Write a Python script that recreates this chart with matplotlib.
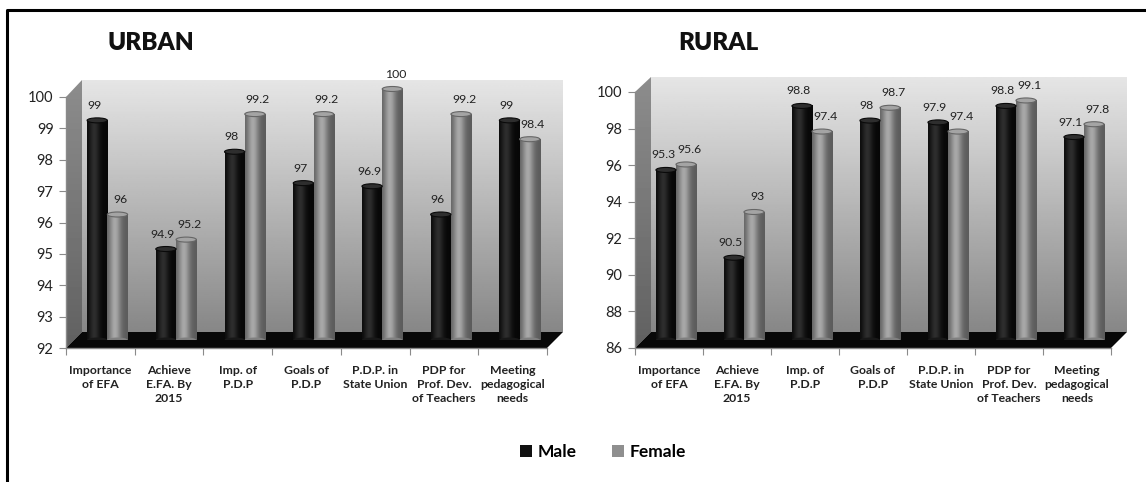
import numpy as np
import matplotlib.pyplot as plt
from matplotlib.patches import Polygon, Ellipse, Patch

plt.rcParams['font.family'] = ['Lato', 'DejaVu Sans']

# ---- data -------------------------------------------------------------
categories = ["Importance\nof EFA", "Achieve\nE.FA. By\n2015", "Imp. of\nP.D.P",
              "Goals of\nP.D.P", "P.D.P. in\nState Union",
              "PDP for\nProf. Dev.\nof Teachers", "Meeting\npedagogical\nneeds"]
urban_male = [99, 94.9, 98, 97, 96.9, 96, 99]
urban_female = [96, 95.2, 99.2, 99.2, 100, 99.2, 98.4]
rural_male = [95.3, 90.5, 98.8, 98, 97.9, 98.8, 97.1]
rural_female = [95.6, 93, 97.4, 98.7, 97.4, 99.1, 97.8]
urban_ticks = list(range(92, 101))
rural_ticks = list(range(86, 101, 2))
series_names = ["Male", "Female"]

# ---- figure -----------------------------------------------------------
W, H = 1146, 482
fig = plt.figure(figsize=(W / 100, H / 100), dpi=100)

# background layer in pixel coordinates (origin top-left)
bg = fig.add_axes([0, 0, 1, 1], zorder=0)
bg.set_xlim(0, W)
bg.set_ylim(H, 0)
bg.axis("off")

# outer frame
bg.plot([7, 7, W + 5], [H + 5, 10, 10], color="black", lw=2.2, solid_capstyle="butt")


def rect_px(x0, y_top, x1, y_bot):
    return [x0 / W, 1 - y_bot / H, (x1 - x0) / W, (y_bot - y_top) / H]


def cylinder(ax, bars, kind, ppu):
    for b in bars:
        x = b.get_x()
        w = b.get_width()
        y0 = b.get_y()
        y1 = y0 + b.get_height()
        t = np.linspace(0, 1, 64)
        if kind == "m":
            shade = 0.03 + 0.15 * np.exp(-((t - 0.35) / 0.25) ** 2)
            top_face, top_edge = "#2e2e2e", "#0a0a0a"
        else:
            shade = 0.36 + 0.30 * np.exp(-((t - 0.38) / 0.28) ** 2)
            top_face, top_edge = "#a4a4a4", "#666666"
        ax.imshow(shade[None, :], extent=(x, x + w, y0, y1), aspect="auto",
                  cmap="gray", vmin=0, vmax=1, zorder=3, interpolation="bilinear")
        eh = 5.0 / ppu
        ax.add_patch(Ellipse((x + w / 2, y0), w, eh, facecolor=plt.cm.gray(shade.mean()),
                             edgecolor="none", zorder=3))
        ax.add_patch(Ellipse((x + w / 2, y1), w, eh, facecolor=top_face,
                             edgecolor=top_edge, lw=0.8, zorder=4))


def panel(x0, x1, y_floor, y_hi, wall_top, ymin, yhi, ticks, male, female,
          title, title_x):
    n = len(categories)
    ppu = (y_floor - y_hi) / (yhi - ymin)
    ytop = ymin + (y_floor - wall_top) / ppu
    dx, dy = 16, 16          # depth of the box
    sx, sy = 7, 8            # bars sit half-way back

    # walls and floor
    grad = np.linspace(0.90, 0.53, 128)[:, None]
    bg.imshow(grad, extent=(x0 + dx, x1 + dx, y_floor - dy, wall_top), aspect="auto",
              cmap="gray", vmin=0, vmax=1, zorder=1, interpolation="bilinear")
    side = np.linspace(0.55, 0.38, 64)[:, None]
    left_wall = Polygon([(x0, y_floor), (x0, y_hi), (x0 + dx, wall_top),
                         (x0 + dx, y_floor - dy)], closed=True, facecolor="none",
                        edgecolor="none")
    bg.add_patch(left_wall)
    im = bg.imshow(side, extent=(x0, x0 + dx, y_floor, wall_top), aspect="auto",
                   cmap="gray", vmin=0, vmax=1, zorder=1, interpolation="bilinear")
    im.set_clip_path(left_wall)
    bg.add_patch(Polygon([(x0, y_floor), (x1, y_floor), (x1 + dx, y_floor - dy),
                          (x0 + dx, y_floor - dy)], closed=True,
                         facecolor="#080808", edgecolor="none", zorder=2))
    bg.set_xlim(0, W)
    bg.set_ylim(H, 0)

    # title
    bg.text(title_x, 43, title, ha="center", va="center", fontsize=17.5,
            fontweight="heavy", color="#111111", zorder=5)

    # front plane: axes, ticks and category labels
    ax = fig.add_axes(rect_px(x0, wall_top, x1, y_floor), zorder=2)
    ax.patch.set_visible(False)
    ax.set_xlim(0, n)
    ax.set_ylim(ymin, ytop)
    for s in ("top", "right"):
        ax.spines[s].set_visible(False)
    for s in ("left", "bottom"):
        ax.spines[s].set_color("#8a8a8a")
        ax.spines[s].set_linewidth(1.0)
    ax.spines["left"].set_bounds(ymin, yhi)
    ax.set_yticks(ticks)
    ax.set_yticklabels([str(t) for t in ticks])
    ax.set_xticks(np.arange(n + 1))
    ax.set_xticklabels([])
    ax.set_xticks(np.arange(n) + 0.5, minor=True)
    ax.set_xticklabels(categories, minor=True, fontsize=8.8, fontweight="bold",
                       color="#222222", linespacing=1.35)
    ax.tick_params(axis="y", length=5, color="#8a8a8a", labelsize=10.5,
                   labelcolor="#222222", pad=4)
    ax.tick_params(axis="x", which="major", length=5, color="#8a8a8a")
    ax.tick_params(axis="x", which="minor", length=0, pad=12)

    # bar plane, shifted back into the box
    bx = fig.add_axes(rect_px(x0 + sx, wall_top - sy, x1 + sx, y_floor - sy), zorder=3)
    bx.axis("off")
    pos = np.arange(n) + 0.5
    bw = 0.295
    mbars = bx.bar(pos - bw / 2, np.array(male) - ymin, bw, bottom=ymin,
                   color="#0d0d0d", zorder=3)
    fbars = bx.bar(pos + bw / 2, np.array(female) - ymin, bw, bottom=ymin,
                   color="#8c8c8c", zorder=3)
    cylinder(bx, mbars, "m", ppu)
    cylinder(bx, fbars, "f", ppu)
    for p, v in zip(pos - bw / 2, male):
        bx.annotate(f"{v:g}", (p, v), xytext=(-3, 15), textcoords="offset pixels",
                    ha="center", va="center", fontsize=8.8, color="#222222", zorder=2)
    for p, v in zip(pos + bw / 2, female):
        bx.annotate(f"{v:g}", (p, v), xytext=(3, 15), textcoords="offset pixels",
                    ha="center", va="center", fontsize=8.8, color="#222222", zorder=2)
    bx.set_xlim(0, n)
    bx.set_ylim(ymin, ytop)
    return ax


panel(66, 547, 348, 97, 80, 92, 100, urban_ticks, urban_male, urban_female,
      "URBAN", 151)
panel(635, 1111, 348, 92, 77, 86, 100, rural_ticks, rural_male, rural_female,
      "RURAL", 718)

handles = [Patch(facecolor="#111111", edgecolor="none"),
           Patch(facecolor="#8f8f8f", edgecolor="none")]
fig.legend(handles, series_names, loc="center", bbox_to_anchor=(603 / W, 1 - 452 / H),
           ncol=2, frameon=False, handlelength=0.7, handleheight=0.7,
           handletextpad=0.35, columnspacing=2.0,
           prop={"size": 12.5, "weight": "bold"})

fig.savefig("out.png", dpi=100)
